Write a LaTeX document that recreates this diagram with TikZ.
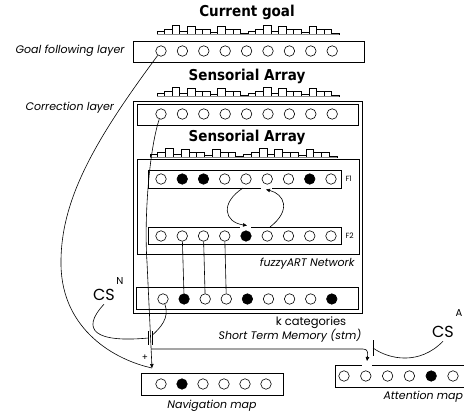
\documentclass[tikz,border=0pt]{standalone}
\usepackage{fontspec}
\setmainfont{Poppins}
\newfontfamily\headfont{DejaVu Sans Condensed Bold}
\usetikzlibrary{arrows.meta, calc}

% bar profile above an input layer: x0, baseline, bar width
\newcommand{\histo}[3]{%
  \foreach \h [count=\i from 0] in {3,5,9,3,8,5,5,2,8,5,5,1,3,5,9,3,8,5,5,2,8,5,5,1}
    \draw[line width=0.7pt, fill=white] ({#1+#3*\i},#2) rectangle ++(#3,-\h);
  \draw[line width=0.9pt, black!45] (#1,#2+0.8) -- ++({24*#3},0);
}

\begin{document}
\begin{tikzpicture}[x=1pt, y=-1pt,
    cell/.style={circle, draw, line width=0.6pt, minimum size=10.5pt, inner sep=0pt},
    on/.style={cell, fill=black},
    layer/.style={draw, line width=0.8pt},
    lbl/.style={font=\fontsize{11}{13}\selectfont\itshape},
    head/.style={font=\headfont\fontsize{15}{17}\selectfont},
    wire/.style={line width=0.6pt},
    tip/.style={-{Triangle[length=4pt, width=3.5pt]}}]

    \useasboundingbox (0,0) rectangle (464,415);

    % Goal following layer
    \node[head] (goalhead) at (247,12) {Current goal};
    \histo{157}{34}{7.6}
    \draw[layer] (133,41) rectangle (364,62);
    \node[lbl, anchor=east] (goallbl) at (128,51) {Goal following layer};
    \foreach \i in {1,...,9}
      \node[cell] (g\i) at ({161+21.4*(\i-1)},51) {};

    % Correction layer
    \node[head] (senshead) at (247,76) {Sensorial Array};
    \histo{157}{96}{7.6}
    \draw[layer] (133,101) rectangle (362,313);
    \draw[layer] (137,104) rectangle (358,125);
    \node[lbl, anchor=west] (corrlbl) at (22,108) {Correction layer};
    \foreach \i in {1,...,9}
      \node[cell] (c\i) at ({161+21.4*(\i-1)},114) {};

    % fuzzyART network
    \node[head] (arthead) at (247,137) {Sensorial Array};
    \histo{150}{157}{7.8}
    \draw[layer] (137,159) rectangle (359,254);
    \draw[layer] (148,170) rectangle (341,188);
    \draw[layer] (148,227) rectangle (341,244);
    \foreach \s [count=\i] in {cell,on,on,cell,cell,cell,cell,on,cell}
      \node[\s] (fa\i) at ({161+21.25*(\i-1)},179) {};
    \foreach \s [count=\i] in {cell,cell,cell,cell,on,cell,cell,cell,cell}
      \node[\s] (fb\i) at ({161+21.25*(\i-1)},236) {};
    \node[font=\fontsize{7.5}{8}\selectfont, anchor=west] (fone) at (342,179) {F1};
    \node[font=\fontsize{7.5}{8}\selectfont, anchor=west] (ftwo) at (342,236) {F2};
    \node[lbl, anchor=east] (artlbl) at (358,264) {fuzzyART Network};

    \draw[white, line width=1.4pt] (240,227) -- (251,227);
    \draw[white, line width=1.4pt] (261,188) -- (272,188);
    \coordinate (f1out) at (243,188);
    \coordinate (f2in) at (247,225.5);
    \coordinate (f2out) at (270,227);
    \coordinate (f1in) at (266,189.5);
    \draw[wire, tip] (f1out) .. controls (220,203) and (224,222) .. (f2in);
    \draw[wire, tip] (f2out) .. controls (292,210) and (284,194) .. (f1in);

    % Short term memory
    \draw[layer] (136,287) rectangle (358,309);
    \foreach \s [count=\i] in {cell,on,cell,cell,on,cell,cell,cell,on}
      \node[\s] (s\i) at ({163+21.1*(\i-1)},299) {};
    \foreach \i in {2,3,4}
      \draw[wire] (fb\i) -- (s\i);
    \node[font=\fontsize{11.5}{13}\selectfont] (klbl) at (311,323) {k categories};
    \node[lbl] (stmlbl) at (290,336) {Short Term Memory (stm)};

    % Navigation map
    \draw[layer] (141,373) rectangle (283,395);
    \foreach \s [count=\i] in {cell,on,cell,cell,cell,cell}
      \node[\s] (n\i) at ({161+21*(\i-1)},384) {};
    \node[lbl] (navlbl) at (212,406) {Navigation map};

    % Attention map
    \draw[layer] (335,365) rectangle (470,387);
    \draw[white, line width=1.4pt] (362,365) -- (372,365);
    \foreach \s [count=\i] in {cell,cell,cell,cell,on,cell}
      \node[\s] (a\i) at ({344+21.8*(\i-1)},376) {};
    \node[lbl, anchor=west] (attlbl) at (380,397) {Attention map};

    % Conditioned stimuli
    \node[font=\fontsize{16}{18}\selectfont] (csn) at (104,295) {CS};
    \node[font=\fontsize{10}{12}\selectfont] (csnsup) at (120,281) {N};
    \node[font=\fontsize{16}{18}\selectfont] (csa) at (443,332) {CS};
    \node[font=\fontsize{10}{12}\selectfont] (csasup) at (459,313) {A};

    % Connections
    \coordinate (navin) at (152,368);
    \coordinate (split) at (151.1,349);
    \coordinate (attin) at (367,361);
    \coordinate (gatel) at (148.5,338);
    \coordinate (gater) at (152.5,335);
    \coordinate (gatea) at (373,348);

    \draw[wire] (g1) .. controls (95,140) and (60,200) .. (61,265)
      .. controls (62,330) and (115,360) .. (navin);
    \draw[wire, tip] (c1) .. controls (149,150) and (144,220) .. (147,262) -- (navin);
    \draw[wire, tip] (split) -- (363,349) .. controls (368,349) and (368,353) .. (attin);

    \draw[wire] (148.5,331) -- (148.5,345);
    \draw[wire] (152.5,331) -- (152.5,345);
    \draw[wire] (csn.south) .. controls (80,330) and (95,343) .. (gatel);
    \draw[wire] (s1) .. controls (170,318) and (160,328) .. (gater);
    \node[font=\fontsize{9}{10}\selectfont] (plus) at (145,358) {+};

    \draw[wire] (373,340) -- (373,356);
    \draw[wire] (csa.south) .. controls (420,365) and (390,360) .. (gatea);

\end{tikzpicture}
\end{document}
